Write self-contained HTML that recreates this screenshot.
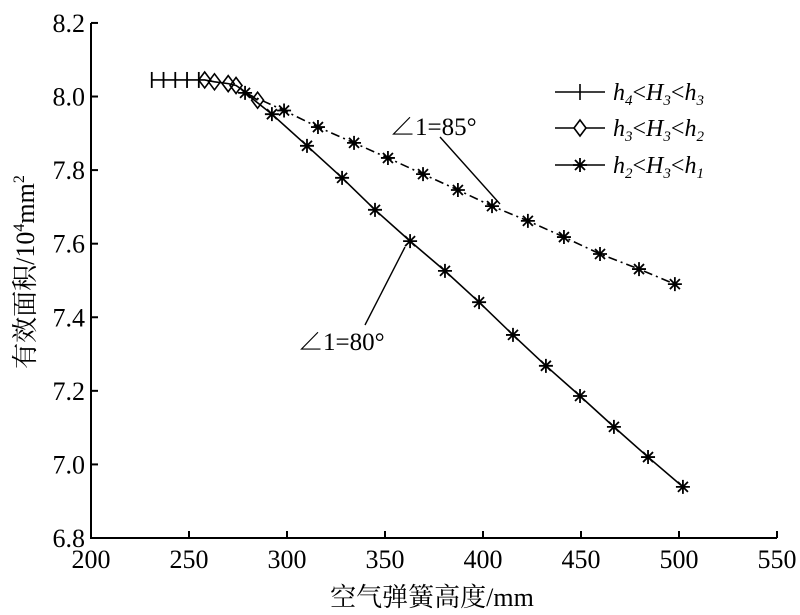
<!DOCTYPE html>
<html><head><meta charset="utf-8"><style>
html,body{margin:0;padding:0;background:#fff;}
svg{display:block;font-family:"Liberation Serif","Noto Serif CJK SC",serif;}
</style></head><body>
<svg id="chart" width="800" height="615" viewBox="0 0 800 615">
<g id="axes"></g>
<g id="plot"></g>
<g font-size="24" font-style="italic">
  <g>
    <line x1="555" y1="92" x2="605" y2="92" stroke="#000" stroke-width="1.6"/>
    <path d="M580 84V100" stroke="#000" stroke-width="1.6"/>
    <text x="613" y="100">h<tspan font-size="15" dy="5">4</tspan><tspan dy="-5" font-style="normal">&lt;</tspan>H<tspan font-size="15" dy="5">3</tspan><tspan dy="-5" font-style="normal">&lt;</tspan>h<tspan font-size="15" dy="5">3</tspan></text>
  </g>
  <g>
    <line x1="555" y1="128" x2="605" y2="128" stroke="#000" stroke-width="1.6"/>
    <path d="M580 120L586 128L580 136L574 128Z" fill="#fff" stroke="#000" stroke-width="1.6"/>
    <text x="613" y="136">h<tspan font-size="15" dy="5">3</tspan><tspan dy="-5" font-style="normal">&lt;</tspan>H<tspan font-size="15" dy="5">3</tspan><tspan dy="-5" font-style="normal">&lt;</tspan>h<tspan font-size="15" dy="5">2</tspan></text>
  </g>
  <g>
    <line x1="555" y1="165" x2="605" y2="165" stroke="#000" stroke-width="1.6"/>
    <path d="M580 158V172M573 165H587M575 160L585 170M585 160L575 170" stroke="#000" stroke-width="1.8"/>
    <text x="613" y="173">h<tspan font-size="15" dy="5">2</tspan><tspan dy="-5" font-style="normal">&lt;</tspan>H<tspan font-size="15" dy="5">3</tspan><tspan dy="-5" font-style="normal">&lt;</tspan>h<tspan font-size="15" dy="5">1</tspan></text>
  </g>
</g>
<g>
  <text x="390" y="135" font-size="25">∠1=85°</text>
  <line x1="440" y1="137" x2="500" y2="204" stroke="#000" stroke-width="1.4"/>
</g>
<g>
  <text x="298" y="350" font-size="25">∠1=80°</text>
  <line x1="405" y1="247" x2="365" y2="325" stroke="#000" stroke-width="1.4"/>
</g>
<text x="432" y="606" font-size="26" text-anchor="middle">空气弹簧高度/mm</text>
<text transform="translate(34,272) rotate(-90)" font-size="26" text-anchor="middle">有效面积/10<tspan font-size="16" dy="-10">4</tspan><tspan dy="10">mm</tspan><tspan font-size="16" dy="-10">2</tspan></text>
</svg>
<script>
const xTicks=[200,250,300,350,400,450,500,550];
const yTicks=[6.8,7.0,7.2,7.4,7.6,7.8,8.0,8.2];
const yTickLabels=["6.8","7.0","7.2","7.4","7.6","7.8","8.0","8.2"];
const s1x=[231,237,243,249,255];
const s1y=[8.045,8.045,8.045,8.045,8.045];
const s2x=[258,263,270,274,285];
const s2y=[8.045,8.04,8.035,8.03,7.99];
const s3x=[278.6,292.3,310.2,328.1,344.9,362.8,380.6,398.0,415.3,432.1,449.5,466.8,484.2,502.0];
const s3y=[8.010,7.952,7.866,7.779,7.692,7.607,7.526,7.441,7.352,7.268,7.186,7.102,7.020,6.939];
const s4x=[278.6,298.5,315.8,334.2,351.5,369.4,387.2,404.6,422.9,441.3,459.7,479.6,497.9];
const s4y=[8.010,7.962,7.917,7.874,7.833,7.789,7.746,7.702,7.662,7.618,7.572,7.531,7.490];
const X=v=>91+(v-200)*1.96;
const Y=v=>538-(v-6.8)*367.9;
const NS="http://www.w3.org/2000/svg";
function mk(tag,attrs,parent){const e=document.createElementNS(NS,tag);for(const k in attrs)e.setAttribute(k,attrs[k]);parent.appendChild(e);return e;}
const axes=document.getElementById('axes'),plot=document.getElementById('plot');
let ax=mk('path',{d:`M${X(200)} ${Y(8.2)}V${Y(6.8)}H${X(550)}`,fill:'none',stroke:'#000','stroke-width':2},axes);


xTicks.forEach(t=>{
  let l=mk('line',{x1:X(t),x2:X(t),y1:Y(6.8),y2:Y(6.8)-7,stroke:'#000','stroke-width':2},axes);
  
  
  let tx=mk('text',{x:X(t),y:568,'font-size':26,'text-anchor':'middle'},axes);tx.textContent=t;
  
  
});
yTicks.forEach((t,i)=>{
  let l=mk('line',{x1:X(200),x2:X(200)+7,y1:Y(t),y2:Y(t),stroke:'#000','stroke-width':2},axes);
  
  
  let tx=mk('text',{x:85,y:Y(t)+9,'font-size':26,'text-anchor':'end'},axes);tx.textContent=yTickLabels[i];
  
  
});
function line(xs,ys,dash,name){
  const p=mk('polyline',{points:xs.map((x,i)=>X(x)+','+Y(ys[i])).join(' '),fill:'none',stroke:'#000','stroke-width':1.6},plot);
  if(dash)p.setAttribute('stroke-dasharray',dash);
  
  
}
line(s1x.concat(s2x),s1y.concat(s2y),null,'series-h4-h3-line');
line(s3x,s3y,null,'series-80-line');
line(s4x,s4y,'9,4,2,4','series-85-line');
s1x.forEach((x,i)=>{const m=mk('path',{d:`M${X(x)} ${Y(s1y[i])-8}v16`,stroke:'#000','stroke-width':1.8},plot);
  
  });
s2x.forEach((x,i)=>{const cx=X(x),cy=Y(s2y[i]);const m=mk('path',{d:`M${cx} ${cy-8}L${cx+6} ${cy}L${cx} ${cy+8}L${cx-6} ${cy}Z`,fill:'none',stroke:'#000','stroke-width':1.6},plot);
  
  });
function star(x,y){const cx=X(x),cy=Y(y);const m=mk('path',{d:`M${cx} ${cy-7}v14M${cx-7} ${cy}h14M${cx-5} ${cy-5}l10 10M${cx+5} ${cy-5}l-10 10`,stroke:'#000','stroke-width':1.8},plot);
  
  }
s3x.forEach((x,i)=>star(x,s3y[i]));
s4x.slice(1).forEach((x,i)=>star(x,s4y[i+1]));
</script>
</body></html>
